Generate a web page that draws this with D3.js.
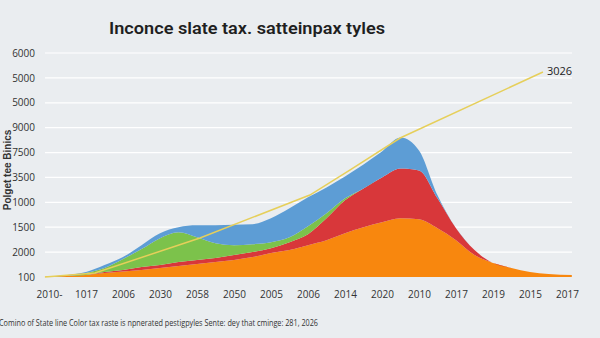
<!DOCTYPE html>
<html><head><meta charset="utf-8">
<script src="https://cdn.jsdelivr.net/npm/d3@7"></script>
<style>html,body{margin:0;padding:0;background:#eaedf0;}svg{display:block;font-family:"Liberation Sans",Arial,sans-serif;}</style>
</head><body>
<svg id="c" width="600" height="338"></svg>
<script>
const title = "Inconce slate tax. satteinpax tyles";
const yTitle = "Polget tee Binics";
const footer = "Comino of State line Color tax raste is npnerated pestigpyles Sente: dey that cminge: 281, 2026";
const xLabels = ["2010-","1017","2006","2030","2058","2050","2005","2006","2014","2020","2010","2017","2019","2015","2017"];
const yLabels = ["100","2000","1500","1000","3500","7500","9000","5000","5000","6000"];
const yTickValues = [0,500,1000,1500,2000,2500,3000,3500,4000,4500];
const xs = [-0.1,0.5,1,1.5,2,2.5,3,3.5,4,4.5,5,5.5,6,6.5,7,7.5,8,8.5,9,9.5,10,10.5,11,11.5,12,12.5,13,13.5,14.13];
const orange = [10,20,40,80,110,140,180,220,260,300,340,400,480,540,640,740,880,1000,1100,1180,1160,980,740,440,280,180,100,60,40];
const red    = [0,0,0,20,30,60,60,80,80,80,100,100,100,160,220,440,660,780,900,1000,980,600,240,100,0,0,0,0,0];
const green  = [0,0,40,80,220,360,540,600,460,300,200,160,120,100,160,100,40,0,0,0,0,0,0,0,0,0,0,0,0];
const blue   = [0,20,20,60,40,80,100,100,240,360,410,400,480,580,580,520,440,480,520,620,400,60,0,0,0,0,0,0,0];
const trendX = [-0.11, 1.24, 4.08, 7.05, 8.14, 9.49, 13.35];
const trendV = [0, 80, 784, 1647, 2150, 2792, 4118];
const trendLabel = "3026";
const seriesNames = ["orange","red","green","blue"];
const colors = ["#f8870e","#d8373a","#7cc24b","#5d9dd5"];

const svg = d3.select("#c");
const x = d3.scaleLinear().domain([0,14]).range([49,567]);
const y = d3.scaleLinear().domain([0,4500]).range([277,53]);

svg.append("rect").attr("width",600).attr("height",338).attr("fill","#eaedf0");

svg.append("g").selectAll("line").data(yTickValues.slice(1)).join("line")
  .attr("x1",45).attr("x2",572).attr("y1",d=>y(d)).attr("y2",d=>y(d))
  .attr("stroke","#ffffff").attr("stroke-width",1.2);

const yAxis = d3.axisLeft(y).tickValues(yTickValues).tickFormat((d,i)=>yLabels[i]).tickSize(0).tickPadding(0);
const gy = svg.append("g").attr("transform","translate(35,0)").call(yAxis);
gy.select(".domain").remove();
gy.selectAll("text").attr("font-size",10).attr("fill","#333").attr("font-family","Open Sans, sans-serif");

const xAxis = d3.axisBottom(x).tickValues(d3.range(15)).tickFormat((d,i)=>xLabels[i]).tickSize(0).tickPadding(0);
const gx = svg.append("g").attr("transform","translate(0,291)").call(xAxis);
gx.select(".domain").remove();
gx.selectAll("text").attr("font-size",10).attr("fill","#333").attr("font-family","Open Sans, sans-serif");

const rows = xs.map((t,i)=>({t, orange:orange[i], red:red[i], green:green[i], blue:blue[i]}));
const stack = d3.stack().keys(seriesNames)(rows);
const area = d3.area().x(d=>x(d.data.t)).y0(d=>y(d[0])).y1(d=>y(d[1])).curve(d3.curveMonotoneX);
svg.append("g").selectAll("path").data(stack).join("path")
  .attr("d",area).attr("fill",(d,i)=>colors[i]);

const trend = trendX.map((t,i)=>({t, v:trendV[i]}));
svg.append("path").datum(trend)
  .attr("d", d3.line().x(d=>x(d.t)).y(d=>y(d.v)))
  .attr("stroke","#e6cf5a").attr("stroke-width",1.5).attr("fill","none");
svg.append("text").attr("x", x(trendX[trendX.length-1])+4).attr("y", y(trendV[trendV.length-1])+3)
  .attr("font-size",11).attr("fill","#222").attr("font-family","Open Sans, sans-serif").text(trendLabel);

svg.append("text").attr("x",247).attr("y",34).attr("text-anchor","middle")
  .attr("font-size",17).attr("font-weight",600).attr("fill","#1f1f1f")
  .attr("font-family","Roboto, sans-serif").attr("textLength",276).attr("lengthAdjust","spacingAndGlyphs").text(title);
svg.append("text").attr("transform","translate(11,170) rotate(-90)").attr("text-anchor","middle")
  .attr("font-size",10).attr("font-weight",600).attr("fill","#333").text(yTitle);
svg.append("text").attr("x",-1).attr("y",326).attr("font-size",9).attr("fill","#333")
  .attr("font-family","Open Sans, sans-serif")
  .attr("textLength",319).attr("lengthAdjust","spacingAndGlyphs").text(footer);
</script>
</body></html>
